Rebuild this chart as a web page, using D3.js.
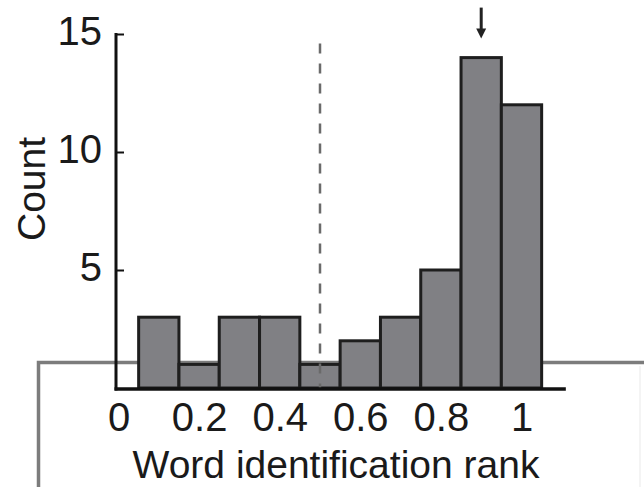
<!DOCTYPE html>
<html>
<head>
<meta charset="utf-8">
<script src="https://cdn.jsdelivr.net/npm/d3@7"></script>
<style>
  html, body { margin: 0; padding: 0; background: #fff; }
  svg { display: block; }
  text { font-family: "Liberation Sans", Arial, sans-serif; fill: #1a1a1a; }
</style>
</head>
<body>
<svg id="chart" width="644" height="487"></svg>
<script>
// Histogram of word identification ranks (bin width 0.1)
const binStarts = [0.05, 0.15, 0.25, 0.35, 0.45, 0.55, 0.65, 0.75, 0.85, 0.95];
const counts    = [3, 1, 3, 3, 1, 2, 3, 5, 14, 12];
const xTicks    = [0, 0.2, 0.4, 0.6, 0.8, 1];
const yTicks    = [5, 10, 15];
const binWidth  = 0.1;
const threshold = 0.5;   // dashed reference line
const peakValue = 0.9;   // arrow marker

const svg = d3.select("#chart");
const W = 644, H = 487;

const x = d3.scaleLinear().domain([0, 1]).range([118.5, 521.5]);
const y = d3.scaleLinear().domain([0, 15]).range([388, 34]);

// Panel frame behind the plot
svg.append("path")
  .attr("d", `M38.5,${H} V362.5 H${W}`)
  .attr("fill", "none")
  .attr("stroke", "#7c7c7c")
  .attr("stroke-width", 3.5);
svg.append("line")
  .attr("x1", 640).attr("x2", 640).attr("y1", 366).attr("y2", H)
  .attr("stroke", "#f0f0f0").attr("stroke-width", 1.5);

// Bars
svg.append("g").selectAll("rect")
  .data(binStarts.map((s, i) => ({ s, c: counts[i] })))
  .join("rect")
  .attr("x", d => x(d.s))
  .attr("width", d => x(d.s + binWidth) - x(d.s))
  .attr("y", d => y(d.c))
  .attr("height", d => y(0) - y(d.c))
  .attr("fill", "#808084")
  .attr("stroke", "#1e1e1e")
  .attr("stroke-width", 3);

// Dashed reference line
svg.append("line")
  .attr("x1", x(threshold)).attr("x2", x(threshold))
  .attr("y1", y(14.6)).attr("y2", y(0))
  .attr("stroke", "#6a6a6a")
  .attr("stroke-width", 2.5)
  .attr("stroke-dasharray", "10,10");

// Axes lines
const axisX = x(0) - 2.5;
svg.append("line")
  .attr("x1", axisX).attr("x2", axisX)
  .attr("y1", y(15) - 1).attr("y2", y(0) + 2.5)
  .attr("stroke", "#111").attr("stroke-width", 3);
svg.append("line")
  .attr("x1", axisX - 1.5).attr("x2", x(1.11))
  .attr("y1", y(0) + 1).attr("y2", y(0) + 1)
  .attr("stroke", "#111").attr("stroke-width", 3.5);

// Y axis: inward ticks, labels on the left
const yAxis = d3.axisLeft(y).tickValues(yTicks).tickSize(-8).tickPadding(14);
const gy = svg.append("g").attr("transform", `translate(${axisX},0)`).call(yAxis);
gy.select(".domain").remove();
gy.selectAll(".tick line").attr("stroke", "#111").attr("stroke-width", 2);
gy.selectAll(".tick text")
  .attr("font-size", 40)
  .attr("dy", "0.26em")
  .style("font-family", "'Liberation Sans', Arial, sans-serif")
  .attr("fill", "#1a1a1a");

// X axis: labels only
const xAxis = d3.axisBottom(x).tickValues(xTicks).tickSize(0).tickPadding(14.5)
  .tickFormat(d3.format("~g"));
const gx = svg.append("g").attr("transform", `translate(0,${y(0)})`).call(xAxis);
gx.select(".domain").remove();
gx.selectAll(".tick text")
  .attr("font-size", 40)
  .style("font-family", "'Liberation Sans', Arial, sans-serif")
  .attr("fill", "#1a1a1a");

// Axis titles
svg.append("text")
  .attr("x", 336).attr("y", 478)
  .attr("text-anchor", "middle")
  .attr("font-size", 39)
  .text("Word identification rank");
svg.append("text")
  .attr("transform", "translate(45,189) rotate(-90)")
  .attr("text-anchor", "middle")
  .attr("font-size", 39)
  .text("Count");

// Arrow marking the peak bin
const ax = x(peakValue);
const peakTop = y(counts[binStarts.findIndex(s => Math.abs(s + binWidth / 2 - peakValue) < 1e-9)]);
svg.append("line")
  .attr("x1", ax).attr("x2", ax)
  .attr("y1", peakTop - 50).attr("y2", peakTop - 26)
  .attr("stroke", "#222").attr("stroke-width", 3);
svg.append("path")
  .attr("d", `M${ax - 5},${peakTop - 29} L${ax + 5},${peakTop - 29} L${ax},${peakTop - 19} Z`)
  .attr("fill", "#222");
</script>
</body>
</html>
